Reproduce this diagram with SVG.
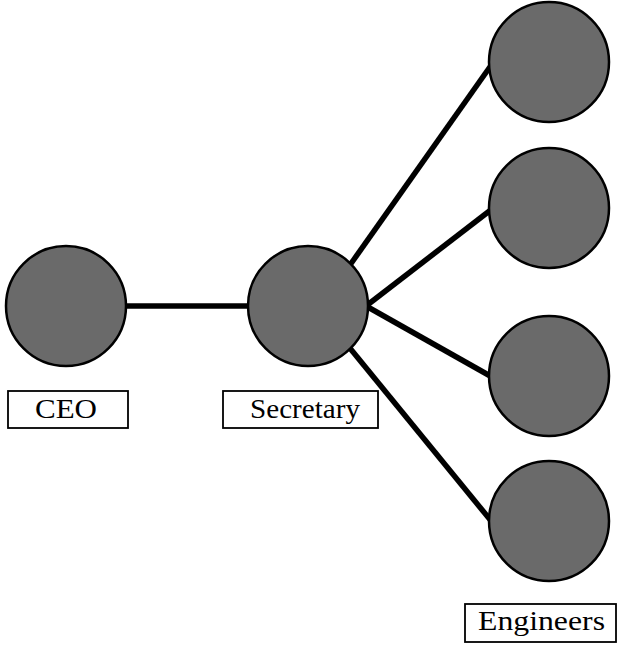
<svg xmlns="http://www.w3.org/2000/svg" width="618" height="646" viewBox="0 0 618 646">
  <style>
    .node { fill: #6a6a6a; stroke: #000; stroke-width: 2.5; }
    .edge { stroke: #000; stroke-width: 5.5; stroke-linecap: butt; fill: none; }
    .box { fill: #fff; stroke: #000; stroke-width: 1.8; }
    .label { font-family: "Liberation Serif", "Times New Roman", serif; font-size: 28px; fill: #000; }
  </style>
  <rect width="618" height="646" fill="#fff"/>

  <!-- connectors -->
  <g id="connectors">
    <line class="edge" x1="120" y1="306" x2="255" y2="306"/>
    <line class="edge" x1="350" y1="265" x2="492" y2="64"/>
    <line class="edge" x1="366" y1="306" x2="492" y2="209"/>
    <line class="edge" x1="366" y1="306" x2="492" y2="377"/>
    <line class="edge" x1="349" y1="347" x2="492" y2="522"/>
  </g>

  <g id="ceo">
    <circle class="node" cx="66" cy="306" r="60"/>
    <rect class="box" x="8" y="391" width="120" height="37"/>
    <text class="label" x="35" y="418" textLength="62" lengthAdjust="spacingAndGlyphs">CEO</text>
  </g>

  <g id="secretary">
    <circle class="node" cx="308" cy="306" r="60"/>
    <rect class="box" x="223" y="391" width="155" height="37"/>
    <text class="label" x="250" y="418" textLength="110" lengthAdjust="spacingAndGlyphs">Secretary</text>
  </g>

  <g id="engineer-1">
    <circle class="node" cx="549" cy="62" r="60"/>
  </g>
  <g id="engineer-2">
    <circle class="node" cx="549" cy="208" r="60"/>
  </g>
  <g id="engineer-3">
    <circle class="node" cx="549" cy="376" r="60"/>
  </g>
  <g id="engineer-4">
    <circle class="node" cx="549" cy="521" r="60"/>
  </g>

  <g id="engineers-label">
    <rect class="box" x="465" y="604" width="151" height="38"/>
    <text class="label" x="478" y="630" textLength="127" lengthAdjust="spacingAndGlyphs">Engineers</text>
  </g>
</svg>
